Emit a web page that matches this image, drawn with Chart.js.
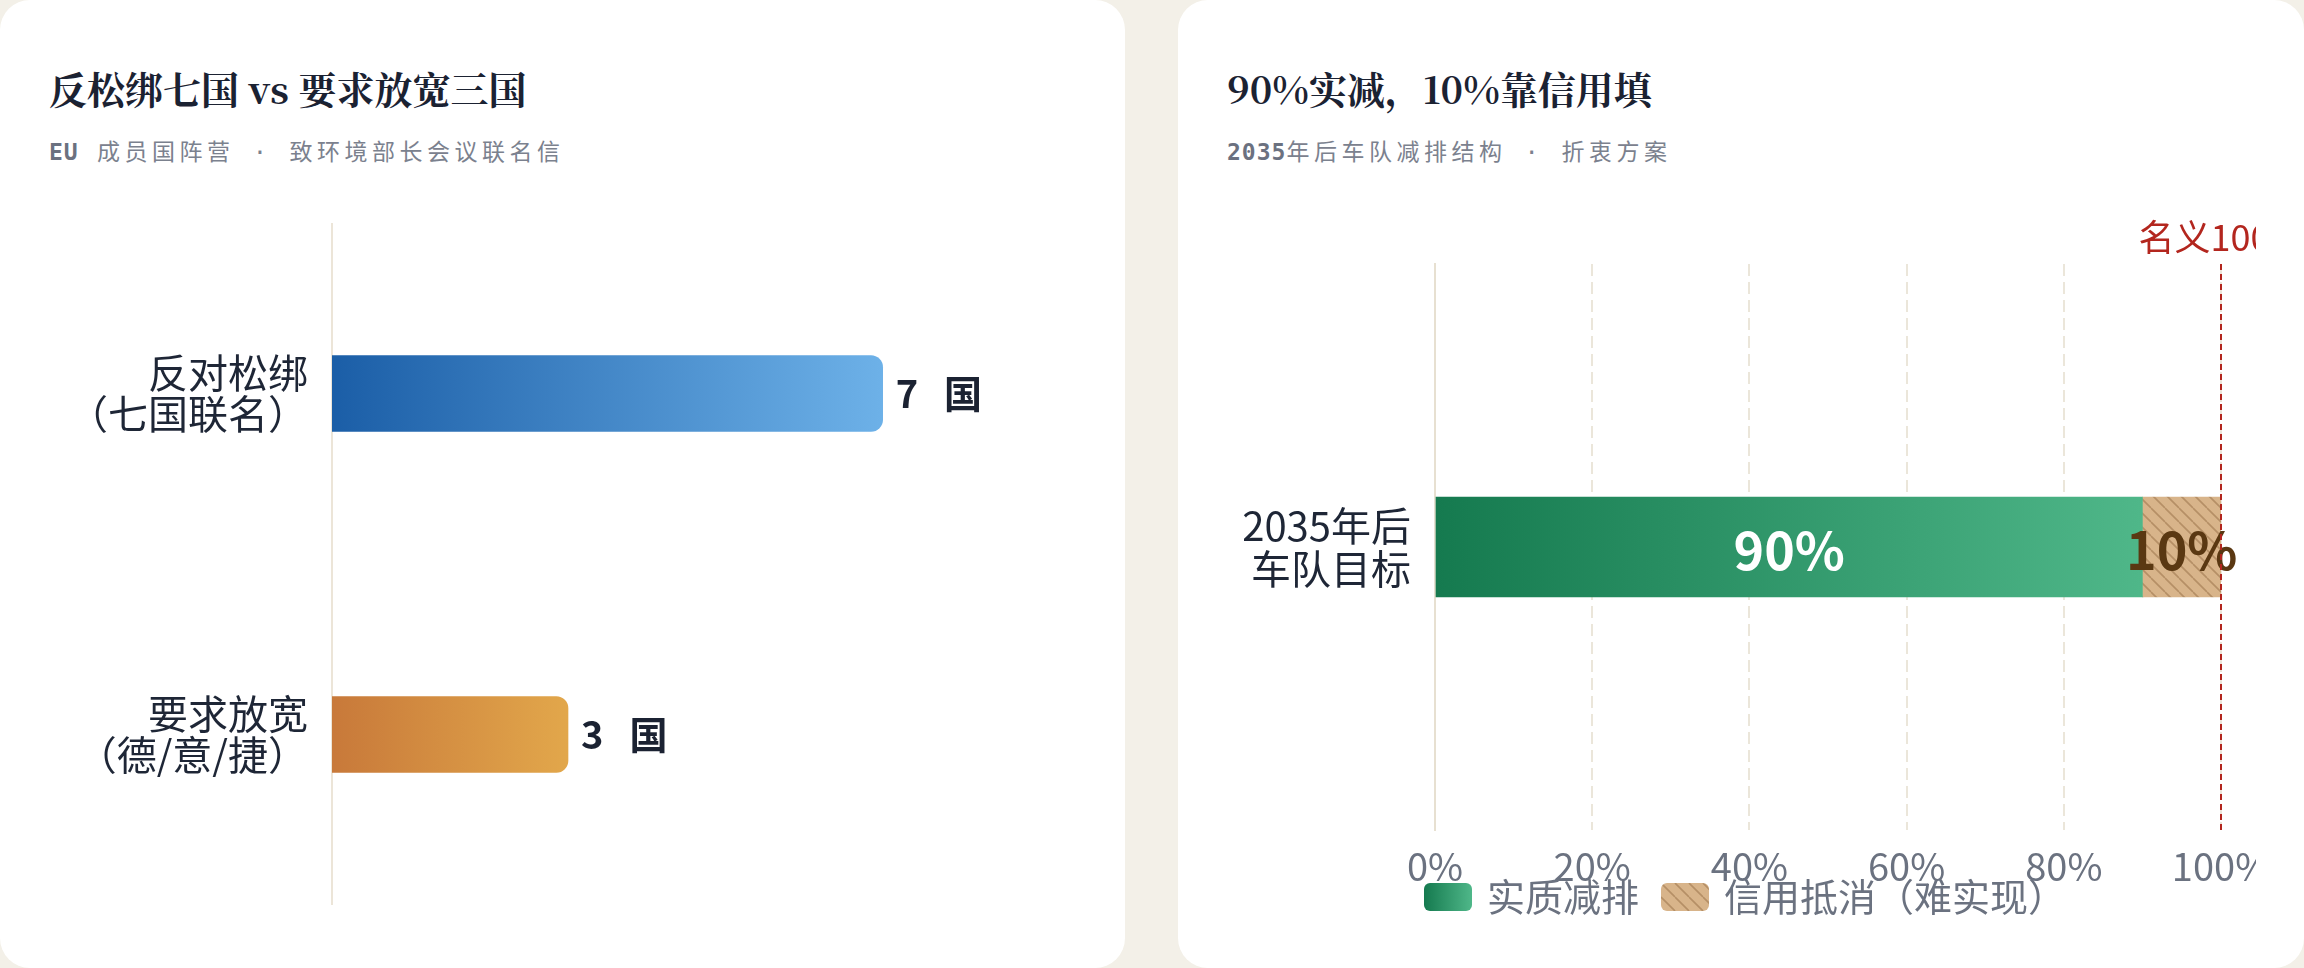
<!DOCTYPE html>
<html lang="zh-CN">
<head>
<meta charset="utf-8">
<title>松绑阵营与减排结构</title>
<script src="https://cdn.jsdelivr.net/npm/chart.js@4.4.1/dist/chart.umd.min.js"></script>
<style>
  html, body { margin: 0; padding: 0; background: #f3f0e8; }
  body { width: 2304px; height: 968px; overflow: hidden; position: relative;
         font-family: "Noto Sans CJK SC", "Noto Sans", sans-serif; }
  .card { position: absolute; top: 0; height: 968px; background: #fff; border-radius: 30px; }
  #cardA { left: 0; width: 1125px; }
  #cardB { left: 1178px; width: 1126px; }
  .title { position: absolute; left: 49px; top: 64px; margin: 0; white-space: nowrap;
           font: 700 38px/48px "Noto Serif CJK SC", "Source Han Serif SC", "Liberation Serif", serif;
           color: #1b2232; }
  .sub { position: absolute; left: 49px; top: 137px; margin: 0; white-space: nowrap;
         font: 400 23px/30px "DejaVu Sans Mono", "Noto Sans CJK SC", monospace;
         letter-spacing: 4.5px; color: #7b818e; }
  .sub b { font-weight: 700; color: #6b7180; letter-spacing: 1px; }
  .box { position: absolute; }
  #boxA { left: 50px; top: 223px; width: 1025px; height: 682px; }
  #boxB { left: 49px; top: 200px; width: 1029px; height: 726px; }
</style>
</head>
<body>
  <div class="card" id="cardA">
    <h2 class="title">反松绑七国 vs 要求放宽三国</h2>
    <p class="sub"><b>EU</b> 成员国阵营 · 致环境部长会议联名信</p>
    <div class="box" id="boxA"><canvas id="campChart"></canvas></div>
  </div>
  <div class="card" id="cardB">
    <h2 class="title">90%实减，10%靠信用填</h2>
    <p class="sub"><b>2035</b>年后车队减排结构 · 折衷方案</p>
    <div class="box" id="boxB"><canvas id="fleetChart"></canvas></div>
  </div>

<script>
// 数据：左图 阵营国家数
const campLabels = [['反对松绑', '（七国联名）'], ['要求放宽', '（德/意/捷）']];
const campCounts = [7, 3];
const campUnit = '国';
const campColors = [['#1b5ea7', '#6db1e8'], ['#c8793a', '#e2a74b']];

// 数据：右图 2035年后减排结构（%）
const fleetLabels = [['2035年后', '车队目标']];
const realCut = [90];
const creditOffset = [10];
const fleetSeriesNames = ['实质减排', '信用抵消（难实现）'];
const pctTicks = [0, 20, 40, 60, 80, 100];
const nominalTarget = 100;
const nominalLabel = '名义100%';

Chart.defaults.font.family = '"Noto Sans CJK SC", "Noto Sans", sans-serif';

// 刻度文字不裁剪到坐标轴盒子内
function noLabelClip(s) { s._computeLabelArea = () => undefined; }

// 左图：渐变填充
function campFill(context) {
  const i = context.dataIndex || 0;
  const chart = context.chart;
  const area = chart.chartArea;
  if (!area) return campColors[i][0];
  const end = chart.scales.x.getPixelForValue(campCounts[i]);
  const g = chart.ctx.createLinearGradient(area.left, 0, end, 0);
  g.addColorStop(0, campColors[i][0]);
  g.addColorStop(1, campColors[i][1]);
  return g;
}

const campValueLabels = {
  id: 'campValueLabels',
  afterDatasetsDraw(chart) {
    const ctx = chart.ctx;
    const meta = chart.getDatasetMeta(0);
    ctx.save();
    ctx.font = '700 38px "Noto Sans CJK SC", sans-serif';
    ctx.fillStyle = '#1b2232';
    ctx.textBaseline = 'middle';
    meta.data.forEach((bar, i) => {
      const num = String(campCounts[i]);
      const x0 = bar.x + 13;
      ctx.fillText(num, x0, bar.y);
      ctx.fillText(campUnit, x0 + ctx.measureText(num).width + 26, bar.y);
    });
    ctx.restore();
  }
};

new Chart(document.getElementById('campChart'), {
  type: 'bar',
  data: {
    labels: campLabels,
    datasets: [{
      data: campCounts,
      backgroundColor: campFill,
      barThickness: 76,
      borderRadius: 12,
      borderSkipped: 'start'
    }]
  },
  options: {
    indexAxis: 'y',
    responsive: true,
    maintainAspectRatio: false,
    animation: false,
    layout: { padding: { right: 35 } },
    plugins: { legend: { display: false }, tooltip: { enabled: false } },
    scales: {
      x: { display: false, min: 0, max: 9 },
      y: {
        grid: { display: false },
        border: { display: true, color: '#ece5d8', width: 2 },
        ticks: { color: '#1e2636', font: { size: 40, lineHeight: 1.03 }, padding: 16 },
        afterFit: s => { s.width = 282; s.paddingTop = 0; s.paddingBottom = 0; noLabelClip(s); }
      }
    }
  },
  plugins: [campValueLabels]
});

// 右图：斜线纹理（信用抵消）
function makeHatch() {
  const c = document.createElement('canvas');
  c.width = c.height = 14;
  const g = c.getContext('2d');
  g.fillStyle = '#d8b48a';
  g.fillRect(0, 0, 14, 14);
  g.strokeStyle = '#b58f66';
  g.lineWidth = 1.6;
  g.beginPath();
  for (let k = -1; k <= 1; k++) { g.moveTo(k * 14, 0); g.lineTo(k * 14 + 14, 14); }
  g.stroke();
  return c;
}
const hatchTile = makeHatch();

function greenFill(context) {
  const chart = context.chart;
  const area = chart.chartArea;
  if (!area) return '#1f8a5a';
  const end = chart.scales.x.getPixelForValue(realCut[0]);
  const g = chart.ctx.createLinearGradient(area.left, 0, end, 0);
  g.addColorStop(0, '#157a4f');
  g.addColorStop(1, '#4fb789');
  return g;
}
function hatchFill(context) {
  return context.chart.ctx.createPattern(hatchTile, 'repeat');
}

// 图例色块
function makeSwatch(kind) {
  const c = document.createElement('canvas');
  c.width = 48; c.height = 28;
  const g = c.getContext('2d');
  if (kind === 0) {
    const gr = g.createLinearGradient(0, 0, 48, 0);
    gr.addColorStop(0, '#157a4f');
    gr.addColorStop(1, '#4fb789');
    g.fillStyle = gr;
  } else {
    g.fillStyle = g.createPattern(hatchTile, 'repeat');
  }
  g.beginPath();
  g.roundRect(0, 0, 48, 28, 6);
  g.fill();
  return c;
}
const swatches = [makeSwatch(0), makeSwatch(1)];

const segLabelColors = ['#ffffff', '#5a3812'];
const segLabels = {
  id: 'segLabels',
  afterDatasetsDraw(chart) {
    const ctx = chart.ctx;
    ctx.save();
    ctx.font = '700 52px "Noto Sans CJK SC", sans-serif';
    ctx.textAlign = 'center';
    ctx.textBaseline = 'middle';
    chart.data.datasets.forEach((ds, di) => {
      ctx.fillStyle = segLabelColors[di];
      chart.getDatasetMeta(di).data.forEach((bar, i) => {
        const p = bar.getProps(['x', 'y', 'base'], true);
        ctx.fillText(ds.data[i] + '%', (p.x + p.base) / 2, p.y + 3);
      });
    });
    ctx.restore();
  }
};

const nominalLine = {
  id: 'nominalLine',
  afterDraw(chart) {
    const { ctx, chartArea, scales } = chart;
    const x = scales.x.getPixelForValue(nominalTarget);
    ctx.save();
    ctx.strokeStyle = '#b3261e';
    ctx.lineWidth = 2;
    ctx.setLineDash([6, 4]);
    ctx.beginPath();
    ctx.moveTo(x, chartArea.top);
    ctx.lineTo(x, chartArea.bottom);
    ctx.stroke();
    ctx.setLineDash([]);
    ctx.fillStyle = '#b3261e';
    ctx.font = '36px "Noto Sans CJK SC", sans-serif';
    ctx.textAlign = 'center';
    ctx.textBaseline = 'middle';
    ctx.fillText(nominalLabel, x, chartArea.top - 27);
    ctx.restore();
  }
};

new Chart(document.getElementById('fleetChart'), {
  type: 'bar',
  data: {
    labels: fleetLabels,
    datasets: [
      { label: fleetSeriesNames[0], data: realCut, backgroundColor: greenFill, barThickness: 100 },
      { label: fleetSeriesNames[1], data: creditOffset, backgroundColor: hatchFill, barThickness: 100 }
    ]
  },
  options: {
    indexAxis: 'y',
    responsive: true,
    maintainAspectRatio: false,
    animation: false,
    layout: { padding: { top: 64, right: 35, left: 46, bottom: 0 } },
    plugins: {
      tooltip: { enabled: false },
      legend: {
        position: 'bottom',
        labels: {
          usePointStyle: true,
          pointStyleWidth: 40,
          padding: 26,
          color: '#6b7280',
          font: { size: 38 },
          generateLabels: chart => chart.data.datasets.map((ds, i) => ({
            text: ds.label,
            pointStyle: swatches[i],
            fillStyle: 'transparent',
            strokeStyle: 'transparent',
            lineWidth: 0,
            hidden: false,
            datasetIndex: i,
            fontColor: '#6b7280'
          }))
        }
      }
    },
    scales: {
      x: {
        stacked: true,
        min: 0,
        max: 100,
        afterBuildTicks: s => { s.ticks = pctTicks.map(v => ({ value: v })); },
        ticks: { color: '#6b7280', font: { size: 38 }, padding: 14, maxRotation: 0, autoSkip: false,
                 callback: v => v + '%' },
        grid: { drawTicks: false, lineWidth: 2,
                color: c => (c.index === 0 ? 'rgba(0,0,0,0)' : '#ebe6da') },
        border: { display: false, dash: [12, 6] },
        afterFit: s => { s.height = 22; s.paddingLeft = 0; s.paddingRight = 0; noLabelClip(s); }
      },
      y: {
        stacked: true,
        grid: { display: false },
        border: { display: true, color: '#e7e0d1', width: 2 },
        ticks: { color: '#1e2636', font: { size: 40, lineHeight: 1.075 }, padding: 16 },
        afterFit: s => { s.width = 162; s.paddingTop = 0; s.paddingBottom = 0; noLabelClip(s); }
      }
    }
  },
  plugins: [segLabels, nominalLine]
});
</script>
</body>
</html>
